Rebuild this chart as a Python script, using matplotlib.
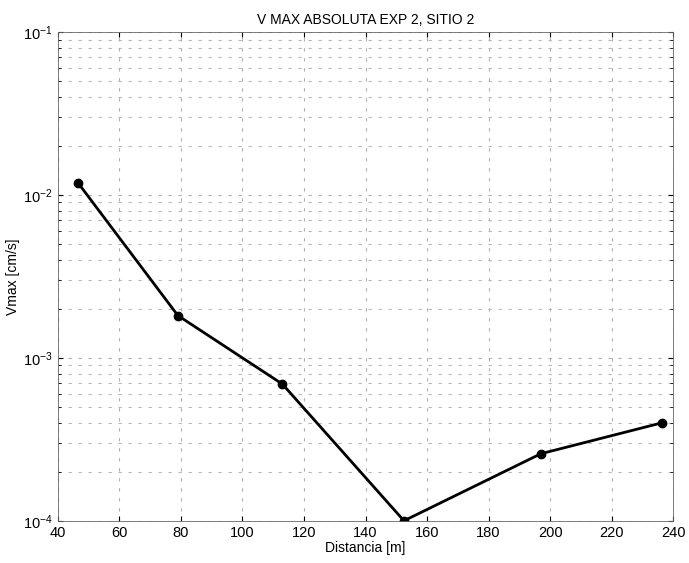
import matplotlib
matplotlib.use('Agg')
import matplotlib.pyplot as plt
from matplotlib.ticker import LogLocator, NullFormatter

plt.rcParams['font.family'] = ['Liberation Sans', 'DejaVu Sans']

# datos
distancia = [46.5, 79, 113, 152.5, 197, 236.5]
vmax = [1.19e-2, 1.82e-3, 6.9e-4, 1.0e-4, 2.58e-4, 4.0e-4]

fig = plt.figure(figsize=(6.89, 5.63), dpi=100)
ax = fig.add_axes([0.084, 0.075, 0.893, 0.868])

ax.semilogy(distancia, vmax, 'k-', linewidth=2, marker='o', markersize=6)

ax.set_xlim(40, 240)
ax.set_ylim(1e-4, 1e-1)
ax.set_xticks(range(40, 241, 20))
ax.yaxis.set_major_locator(LogLocator(base=10, numticks=10))
ax.yaxis.set_minor_locator(LogLocator(base=10, subs=range(2, 10), numticks=10))
ax.yaxis.set_minor_formatter(NullFormatter())

ax.grid(True, which='major', color='#b0b0b0', linestyle=(0, (3, 6)), linewidth=0.8)
ax.grid(True, which='minor', axis='y', color='#b8b8b8', linestyle=(0, (3, 6)), linewidth=0.8)
ax.tick_params(direction='in', which='both', top=True, right=True, labelsize=10.5)
for s in ax.spines.values():
    s.set_linewidth(0.6)
    s.set_color('#666666')

ax.set_title('V MAX ABSOLUTA EXP 2, SITIO 2', fontsize=10)
ax.set_xlabel('Distancia [m]', fontsize=10, labelpad=1)
ax.set_ylabel('Vmax [cm/s]', fontsize=10, labelpad=2)

fig.savefig('out.png', dpi=100)
